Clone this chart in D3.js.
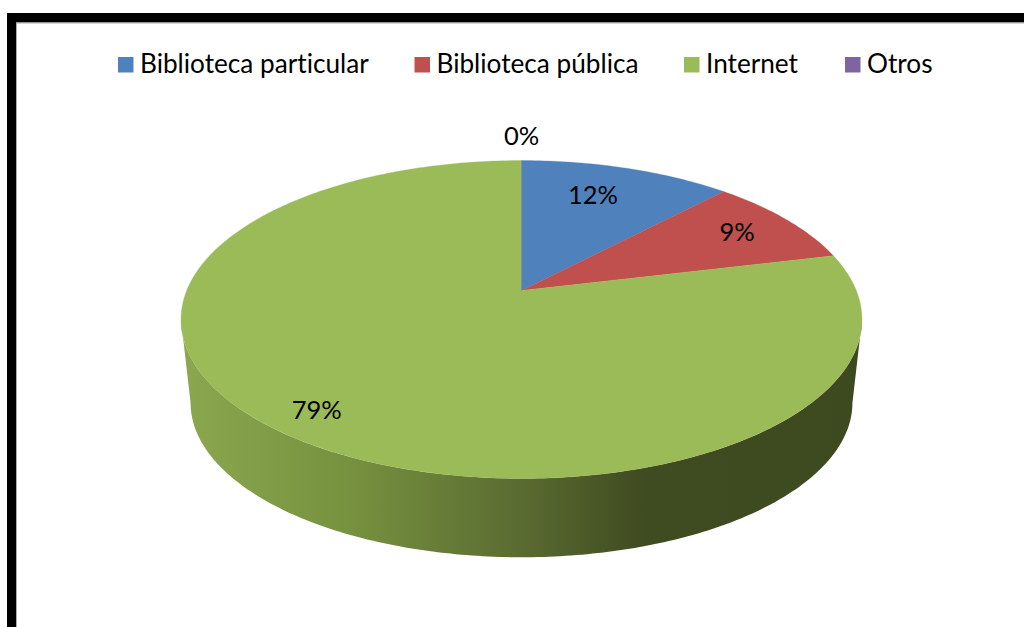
<!DOCTYPE html>
<html><head><meta charset="utf-8">
<script src="https://cdnjs.cloudflare.com/ajax/libs/d3/7.8.5/d3.min.js"></script>
<style>html,body{margin:0;padding:0;background:#fff;overflow:hidden}svg{display:block}text{font-family:Lato,"Open Sans",sans-serif;fill:#000;font-variant-ligatures:none}</style>
</head><body><svg id="c" width="1024" height="627"></svg>
<script>
const categories = ["Biblioteca particular","Biblioteca pública","Internet","Otros"];
const values = [12, 9.2, 78.8, 0];
const colors = ["#4f81bd","#c0504d","#9bbb59","#8064a2"];

// layout
const legendSwatchX = [118, 414.5, 684, 845];
const labelRadius = [0.74, 0.80, 0.867, 1.23];
const labelAngleShift = [-2.6, 0, 0, 0];
const K = -0.1824;
const top3d = {cx:521.5, cy:290.5, a:334.8, b:153.7};
const bot3d = {cx:521.5, cy:374.5, a:325.4, b:149.4};

const svg = d3.select("#c");
const defs = svg.append("defs");
const grad = defs.append("linearGradient").attr("id","wall").attr("gradientUnits","userSpaceOnUse")
  .attr("x1",181).attr("x2",862).attr("y1",0).attr("y2",0);
[[0,"#8ba84f"],[0.25,"#76913f"],[0.5,"#5a6b31"],[0.68,"#3f4b20"],[1,"#3d4a1f"]].forEach(s=>
  grad.append("stop").attr("offset",s[0]).attr("stop-color",s[1]));

function proj(p, th, r=1){
  const x=Math.sin(th)*r, y=-Math.cos(th)*r, w=1+K*y;
  return [p.cx+p.a*x/w, p.cy+p.b*y/w];
}
const line = d3.line();
const pie = d3.pie().sort(null).value(d=>d)(values);

// side wall
const thR = Math.PI - Math.asin(Math.sqrt(1-K*K)), thL = 2*Math.PI - thR;
const front = d3.range(0,201).map(i=>thR+(thL-thR)*i/200);
const wallPts = front.map(t=>proj(top3d,t)).concat(front.slice().reverse().map(t=>proj(bot3d,t)));
svg.append("path").attr("d",line(wallPts)+"Z").attr("fill","url(#wall)");

// top face
svg.selectAll("path.slice").data(pie).join("path").attr("class","slice")
  .attr("fill",(d,i)=>colors[i])
  .attr("stroke",(d,i)=>colors[i]).attr("stroke-width",0.3)
  .attr("d",d=>{
    const n=Math.max(2,Math.ceil((d.endAngle-d.startAngle)*60));
    const pts=[[top3d.cx,top3d.cy]];
    for(let i=0;i<=n;i++) pts.push(proj(top3d,d.startAngle+(d.endAngle-d.startAngle)*i/n));
    return line(pts)+"Z";
  });

// data labels
const fmt=d3.format(".0%");
svg.selectAll("text.lab").data(pie).join("text").attr("class","lab")
  .attr("text-anchor","middle").attr("font-size",25.5).attr("dominant-baseline","central")
  .each(function(d,i){
    const mid=(d.startAngle+d.endAngle)/2+labelAngleShift[i]*Math.PI/180;
    const [x,y]=proj(top3d,i===3?0:mid,labelRadius[i]);
    d3.select(this).attr("x",x).attr("y",y-1.5);
  })
  .text((d,i)=>fmt(values[i]/100));

// legend
const leg=svg.selectAll("g.leg").data(categories).join("g").attr("class","leg");
leg.append("rect").attr("x",(d,i)=>legendSwatchX[i]).attr("y",57).attr("width",15.5).attr("height",15.5).attr("fill",(d,i)=>colors[i]);
leg.append("text").attr("x",(d,i)=>legendSwatchX[i]+22).attr("y",73).attr("font-size",26.2).text(d=>d);

// frame
svg.append("rect").attr("x",7).attr("y",13).attr("width",9).attr("height",614).attr("fill","#000");
svg.append("rect").attr("x",7).attr("y",13).attr("width",1017).attr("height",9.5).attr("fill","#000");
svg.append("rect").attr("x",16).attr("y",22.5).attr("width",1008).attr("height",1).attr("fill","#aaa");
svg.append("rect").attr("x",16).attr("y",22.5).attr("width",1).attr("height",604.5).attr("fill","#aaa");
</script></body></html>
